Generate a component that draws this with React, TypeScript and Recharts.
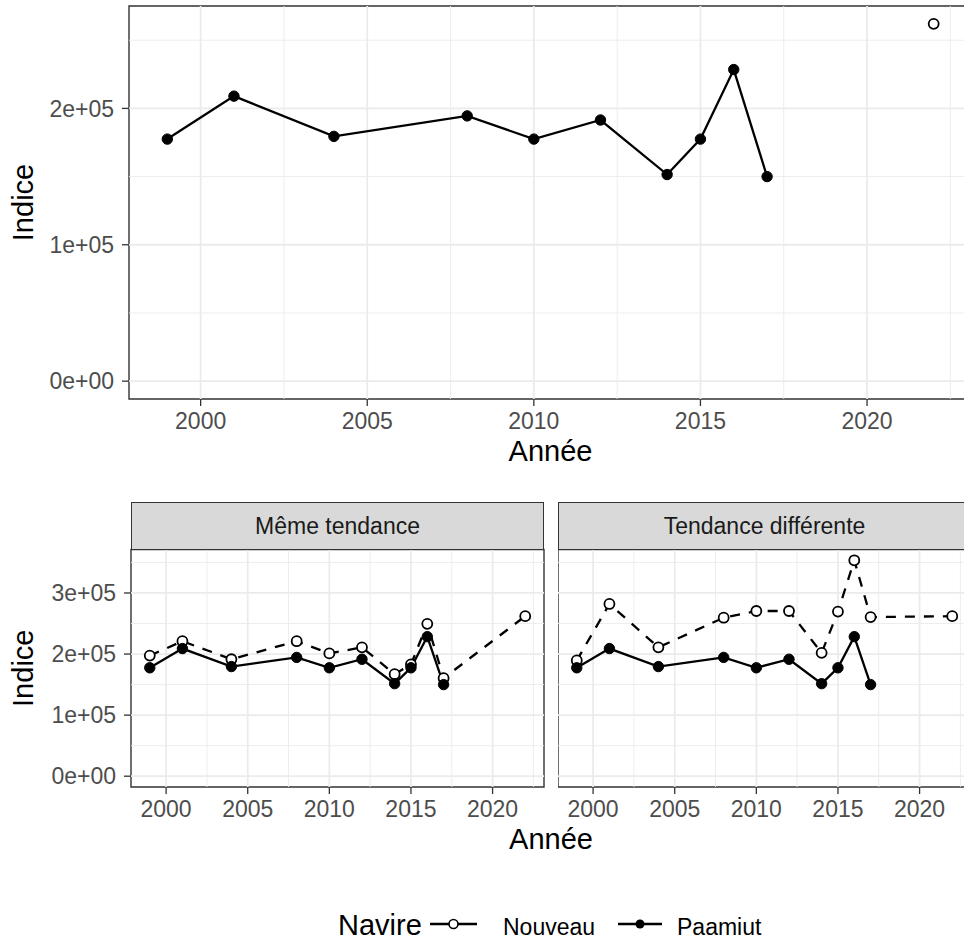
import React from 'react';
import { LineChart, Line, XAxis, YAxis, ReferenceLine, ReferenceArea, Label } from 'recharts';

// survey years and index values
const years = [1999, 2001, 2004, 2008, 2010, 2012, 2014, 2015, 2016, 2017, 2022];
const paamiut = [177500, 209000, 179500, 194500, 177500, 191500, 151500, 177500, 228500, 150000, null];
const nouveauTop = [null, null, null, null, null, null, null, null, null, null, 262000];
const nouveauMeme = [197500, 221000, 191500, 221000, 201000, 211000, 167000, 183000, 249500, 160500, 262000];
const nouveauDiff = [189500, 282000, 211000, 259500, 270500, 270500, 202000, 269500, 353500, 260500, 262000];

const facets = ['Même tendance', 'Tendance différente'];
const xTicks = [2000, 2005, 2010, 2015, 2020];
const xMinor = [1997.5, 2002.5, 2007.5, 2012.5, 2017.5, 2022.5];
const yTicksTop = [0, 100000, 200000];
const yMinorTop = [50000, 150000, 250000];
const yTicksBottom = [0, 100000, 200000, 300000];
const yMinorBottom = [50000, 150000, 250000, 350000];

const FONT = '"Liberation Sans", Arial, Helvetica, sans-serif';
const INK = '#333333';
const GRID = '#EBEBEB';
const TICK = '#4D4D4D';

type Val = number | null;

function pad(vals: Val[]): [number, number] {
  const v = vals.filter((d): d is number => d !== null);
  const lo = Math.min(...v);
  const hi = Math.max(...v);
  const r = hi - lo;
  return [lo - r * 0.05, hi + r * 0.05];
}

const xDomain = pad(years);
const yDomainTop = pad([0, ...paamiut, ...nouveauTop]);
const yDomainBottom = pad([0, ...paamiut, ...nouveauMeme, ...nouveauDiff]);

function sci(v: number) {
  const [m, e] = v.toExponential(0).split('e');
  return `${m}e${e[0]}${e.slice(1).padStart(2, '0')}`;
}

function rows(nouveau: Val[]) {
  return years.map((year, i) => ({ year, paamiut: paamiut[i], nouveau: nouveau[i] }));
}

const openDot = { r: 5, fill: '#fff', stroke: '#000', strokeWidth: 1.8 };
const fullDot = { r: 5.2, fill: '#000', stroke: '#000', strokeWidth: 1 };

type PanelProps = {
  data: ReturnType<typeof rows>;
  width: number;
  height: number;
  margin: { top: number; right: number; bottom: number; left: number };
  yWidth: number;
  showY: boolean;
  yDomain: [number, number];
  yTicks: number[];
  yMinor: number[];
  dashed: boolean;
  xTitle?: (vb: any) => React.ReactNode;
};

function Panel(p: PanelProps) {
  return (
    <LineChart width={p.width} height={p.height} data={p.data} margin={p.margin}>
      <XAxis
        type="number"
        dataKey="year"
        domain={xDomain}
        ticks={xTicks}
        interval={0}
        allowDataOverflow
        height={80}
        tickSize={7}
        tickMargin={7}
        axisLine={false}
        tickLine={{ stroke: INK, strokeWidth: 1.3 }}
        tick={{ fill: TICK, fontSize: 23, fontFamily: FONT }}
      >
        {p.xTitle && <Label content={(props: any) => p.xTitle!(props.viewBox)} />}
      </XAxis>
      <YAxis
        type="number"
        hide={!p.showY}
        width={p.yWidth}
        domain={p.yDomain}
        ticks={p.yTicks}
        interval={0}
        allowDataOverflow
        tickFormatter={sci}
        tickSize={7}
        tickMargin={8}
        axisLine={false}
        tickLine={{ stroke: INK, strokeWidth: 1.3 }}
        tick={{ fill: TICK, fontSize: 23, fontFamily: FONT }}
      >
        {p.showY && (
          <Label
            content={(props: any) => {
              const vb = props.viewBox;
              const cx = vb.x + 33;
              const cy = vb.y + vb.height / 2;
              return (
                <text x={cx} y={cy} transform={`rotate(-90 ${cx} ${cy})`} textAnchor="middle" fontSize={29} fontFamily={FONT} fill="#000">
                  Indice
                </text>
              );
            }}
          />
        )}
      </YAxis>
      {p.yMinor.map((v) => (
        <ReferenceLine key={'ym' + v} y={v} stroke={GRID} strokeWidth={0.9} />
      ))}
      {xMinor.map((v) => (
        <ReferenceLine key={'xm' + v} x={v} stroke={GRID} strokeWidth={0.9} />
      ))}
      {p.yTicks.map((v) => (
        <ReferenceLine key={'y' + v} y={v} stroke={GRID} strokeWidth={1.8} />
      ))}
      {xTicks.map((v) => (
        <ReferenceLine key={'x' + v} x={v} stroke={GRID} strokeWidth={1.8} />
      ))}
      <ReferenceArea x1={xDomain[0]} x2={xDomain[1]} y1={p.yDomain[0]} y2={p.yDomain[1]} fill="none" fillOpacity={0} stroke={INK} strokeWidth={1.4} />
      {p.dashed && (
        <Line dataKey="nouveau" stroke="#000" strokeWidth={2.3} strokeDasharray="10 9" dot={false} activeDot={false} isAnimationActive={false} />
      )}
      <Line dataKey="paamiut" stroke="#000" strokeWidth={2.3} dot={false} activeDot={false} isAnimationActive={false} />
      <Line dataKey="nouveau" stroke="none" dot={openDot} activeDot={false} isAnimationActive={false} />
      <Line dataKey="paamiut" stroke="none" dot={fullDot} activeDot={false} isAnimationActive={false} />
    </LineChart>
  );
}

const titleStyle = { fontSize: 29, fontFamily: FONT, fill: '#000' };

// bottom facets layout
const BOT_TOP = 540;
const LEFT_PLOT = 131;
const FACET_W = 413;
const GAP = 14;
const RIGHT_PLOT = LEFT_PLOT + FACET_W + GAP;

export default function App() {
  const bottomCenter = (LEFT_PLOT + RIGHT_PLOT + FACET_W) / 2;
  return (
    <div style={{ position: 'absolute', left: 0, top: 0, width: 964, height: 941, overflow: 'hidden', background: '#fff', fontFamily: FONT }}>
      <div style={{ position: 'absolute', left: 0, top: 0 }}>
        <Panel
          data={rows(nouveauTop)}
          width={972}
          height={479}
          margin={{ top: 6, right: 0, bottom: 0, left: 0 }}
          yWidth={129}
          showY
          yDomain={yDomainTop}
          yTicks={yTicksTop}
          yMinor={yMinorTop}
          dashed={false}
          xTitle={(vb) => (
            <text x={vb.x + vb.width / 2} y={vb.y + 62} textAnchor="middle" {...titleStyle}>
              Année
            </text>
          )}
        />
      </div>

      <div style={{ position: 'absolute', left: 0, top: BOT_TOP }}>
        <Panel
          data={rows(nouveauMeme)}
          width={972}
          height={327}
          margin={{ top: 9.5, right: 972 - LEFT_PLOT - FACET_W, bottom: 0, left: 0 }}
          yWidth={LEFT_PLOT}
          showY
          yDomain={yDomainBottom}
          yTicks={yTicksBottom}
          yMinor={yMinorBottom}
          dashed
          xTitle={(vb) => (
            <text x={bottomCenter} y={vb.y + 62} textAnchor="middle" {...titleStyle}>
              Année
            </text>
          )}
        />
      </div>
      <div style={{ position: 'absolute', left: RIGHT_PLOT, top: BOT_TOP }}>
        <Panel
          data={rows(nouveauDiff)}
          width={FACET_W}
          height={327}
          margin={{ top: 9.5, right: 0, bottom: 0, left: 0 }}
          yWidth={0}
          showY={false}
          yDomain={yDomainBottom}
          yTicks={yTicksBottom}
          yMinor={yMinorBottom}
          dashed
        />
      </div>

      {facets.map((f, i) => (
        <div
          key={f}
          style={{
            position: 'absolute',
            left: i === 0 ? LEFT_PLOT : RIGHT_PLOT,
            top: 502,
            width: FACET_W,
            height: 48,
            boxSizing: 'border-box',
            border: `1.4px solid ${INK}`,
            background: '#D9D9D9',
            color: '#1A1A1A',
            fontSize: 23,
            display: 'flex',
            alignItems: 'center',
            justifyContent: 'center',
          }}
        >
          {f}
        </div>
      ))}

      <svg style={{ position: 'absolute', left: 0, top: 895 }} width={964} height={46}>
        <text x={338} y={40} fontSize={29} fontFamily={FONT} fill="#000">Navire</text>
        <line x1={430} x2={477} y1={29} y2={29} stroke="#000" strokeWidth={2.3} />
        <circle cx={453.5} cy={29} r={4.5} fill="#fff" stroke="#000" strokeWidth={1.6} />
        <text x={503} y={40} fontSize={23} fontFamily={FONT} fill="#000">Nouveau</text>
        <line x1={618} x2={662} y1={29} y2={29} stroke="#000" strokeWidth={2.3} />
        <circle cx={640} cy={29} r={4.5} fill="#000" />
        <text x={677} y={40} fontSize={23} fontFamily={FONT} fill="#000">Paamiut</text>
      </svg>
    </div>
  );
}
